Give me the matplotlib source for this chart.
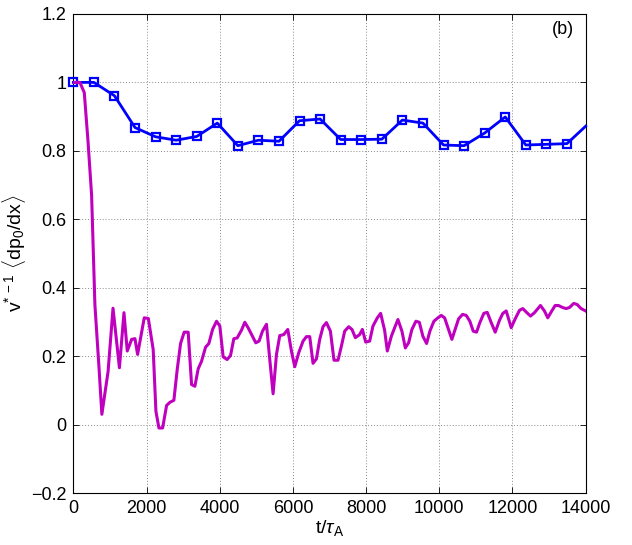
import matplotlib
matplotlib.use("Agg")
import matplotlib.pyplot as plt

# ---- data ----
blue_t = [0, 562, 1124, 1686, 2248, 2810, 3372, 3934, 4496, 5058, 5620, 6182, 6744,
          7306, 7868, 8430, 8992, 9554, 10116, 10678, 11240, 11802, 12364, 12926,
          13488, 14000]
blue_v = [1.0, 1.0, 0.961, 0.868, 0.841, 0.831, 0.842, 0.881, 0.815, 0.831, 0.828,
          0.888, 0.893, 0.833, 0.833, 0.834, 0.890, 0.881, 0.817, 0.815, 0.852,
          0.899, 0.817, 0.819, 0.821, 0.872]

mag_t = [0, 180, 300, 400, 500, 590, 700, 780, 950, 1085, 1260, 1384, 1474, 1594,
         1684, 1757, 1938, 2050, 2183, 2257, 2339, 2440, 2549, 2639, 2748, 2839,
         2931, 3029, 3139, 3231, 3322, 3412, 3504, 3613, 3704, 3805, 3914, 4004,
         4094, 4203, 4296, 4386, 4476, 4596, 4686, 4776, 4885, 4986, 5076, 5169,
         5278, 5368, 5459, 5551, 5641, 5751, 5860, 5960, 6051, 6160, 6278, 6370,
         6460, 6550, 6643, 6733, 6823, 6916, 7025, 7123, 7233, 7325, 7415, 7525,
         7615, 7707, 7825, 7898, 7989, 8098, 8188, 8308, 8398, 8507, 8580, 8690,
         8780, 8870, 8979, 9072, 9162, 9252, 9361, 9454, 9552, 9653, 9743, 9853,
         9962, 10055, 10145, 10254, 10344, 10437, 10527, 10636, 10737, 10835,
         10928, 11018, 11108, 11217, 11310, 11419, 11528, 11646, 11736, 11829,
         11965, 12074, 12192, 12282, 12374, 12492, 12601, 12765, 12874, 12964,
         13057, 13166, 13256, 13373, 13466, 13556, 13673, 13766, 13875, 14000]
mag_v = [1.0, 1.0, 0.97, 0.83, 0.67, 0.35, 0.17, 0.03, 0.155, 0.34, 0.166, 0.327,
         0.215, 0.249, 0.251, 0.205, 0.312, 0.310, 0.219, 0.039, -0.01, -0.01,
         0.056, 0.065, 0.071, 0.161, 0.237, 0.270, 0.270, 0.117, 0.112, 0.163,
         0.185, 0.226, 0.237, 0.278, 0.302, 0.288, 0.198, 0.190, 0.202, 0.251,
         0.253, 0.276, 0.299, 0.283, 0.260, 0.239, 0.244, 0.273, 0.293, 0.190,
         0.09, 0.205, 0.260, 0.263, 0.278, 0.215, 0.169, 0.210, 0.244, 0.257,
         0.257, 0.179, 0.192, 0.249, 0.286, 0.298, 0.273, 0.188, 0.188, 0.229,
         0.273, 0.286, 0.278, 0.254, 0.263, 0.278, 0.241, 0.244, 0.288, 0.312,
         0.325, 0.275, 0.215, 0.258, 0.283, 0.307, 0.273, 0.224, 0.239, 0.278,
         0.302, 0.299, 0.258, 0.237, 0.273, 0.302, 0.312, 0.319, 0.312, 0.278,
         0.249, 0.280, 0.309, 0.322, 0.319, 0.302, 0.273, 0.270, 0.298, 0.325,
         0.328, 0.298, 0.270, 0.305, 0.325, 0.332, 0.283, 0.309, 0.334, 0.339,
         0.329, 0.317, 0.327, 0.348, 0.332, 0.312, 0.329, 0.348, 0.348, 0.342,
         0.339, 0.342, 0.354, 0.351, 0.339, 0.332]

x_ticks = [0, 2000, 4000, 6000, 8000, 10000, 12000, 14000]
y_ticks = [-0.2, 0, 0.2, 0.4, 0.6, 0.8, 1.0, 1.2]
y_tick_labels = ["\u22120.2", "0", "0.2", "0.4", "0.6", "0.8", "1", "1.2"]

plt.rcParams['font.family'] = ['Liberation Sans', 'DejaVu Sans']
plt.rcParams['mathtext.fontset'] = 'custom'
plt.rcParams['mathtext.rm'] = 'Liberation Sans'
plt.rcParams['mathtext.it'] = 'Liberation Sans:italic'

fig = plt.figure(figsize=(6.32, 5.45), dpi=100)
ax = fig.add_axes([0.116, 0.0954, 0.8107, 0.879])

ax.plot(blue_t, blue_v, color=(0, 0, 1), lw=2.0, marker='s', markersize=6,
        markerfacecolor='none', markeredgewidth=1.6, markeredgecolor=(0, 0, 1),
        markevery=list(range(len(blue_t) - 1)), zorder=3, clip_on=False)
ax.plot(mag_t, mag_v, color=(0.75, 0, 0.75), lw=2.2, zorder=4)

ax.set_xlim(0, 14000)
ax.set_ylim(-0.2, 1.2)
ax.set_xticks(x_ticks)
ax.set_xticklabels([str(t) for t in x_ticks])
ax.set_yticks(y_ticks)
ax.set_yticklabels(y_tick_labels)
ax.tick_params(direction='in', top=True, right=True, labelsize=13, length=4,
               width=0.6, pad=5)
ax.grid(True, color='#888888', linestyle=(0, (1, 2)), linewidth=0.7)
for s in ax.spines.values():
    s.set_linewidth(0.8)

ax.set_xlabel(r't/$\tau_{\mathrm{A}}$', fontsize=14, labelpad=1)
ax.set_ylabel(r'v$^{*\,-1}$ $\langle$dp$_0$/dx$\rangle$', fontsize=14, labelpad=2)
ax.text(0.978, 0.967, '(b)', transform=ax.transAxes, ha='right', va='center',
        fontsize=13)

fig.savefig('out.png', dpi=100)
